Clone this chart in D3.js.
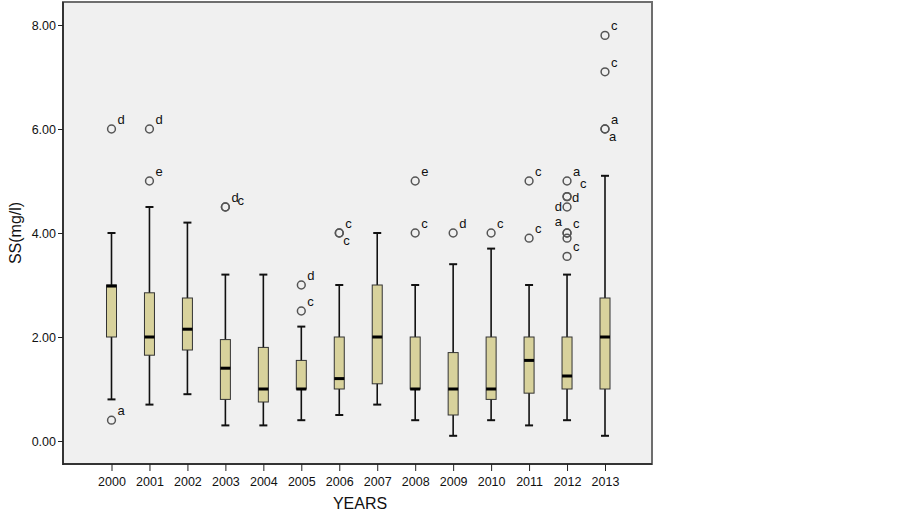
<!DOCTYPE html>
<html lang="en">
<head>
<meta charset="utf-8">
<title>SS by year</title>
<script src="https://cdnjs.cloudflare.com/ajax/libs/d3/7.8.5/d3.min.js"></script>
<style>
    body { margin: 0; background: #fff; }
    text { font-family: "Liberation Sans", Arial, sans-serif; fill: #111; }
</style>
</head>
<body>
<svg width="903" height="511"></svg>
<script>
// values
var years = ["2000","2001","2002","2003","2004","2005","2006","2007","2008","2009","2010","2011","2012","2013"];
var whiskerLow  = [0.8, 0.7, 0.9, 0.3, 0.3, 0.4, 0.5, 0.7, 0.4, 0.1, 0.4, 0.3, 0.4, 0.1];
var q1          = [2.0, 1.65, 1.75, 0.8, 0.75, 1.0, 1.0, 1.1, 1.0, 0.5, 0.8, 0.92, 1.0, 1.0];
var median      = [2.98, 2.0, 2.15, 1.4, 1.0, 1.0, 1.2, 2.0, 1.0, 1.0, 1.0, 1.55, 1.25, 2.0];
var q3          = [3.0, 2.85, 2.75, 1.95, 1.8, 1.55, 2.0, 3.0, 2.0, 1.7, 2.0, 2.0, 2.0, 2.75];
var whiskerHigh = [4.0, 4.5, 4.2, 3.2, 3.2, 2.2, 3.0, 4.0, 3.0, 3.4, 3.7, 3.0, 3.2, 5.1];
// outliers: year, value, label, label position (r = upper right, l = left, b = below right, rr = further right)
var outliers = [
    ["2000", 6.0, "d", "r"], ["2000", 0.4, "a", "r"],
    ["2001", 6.0, "d", "r"], ["2001", 5.0, "e", "r"],
    ["2003", 4.5, "d", "r"], ["2003", 4.5, "c", "r2"],
    ["2005", 3.0, "d", "r"], ["2005", 2.5, "c", "r"],
    ["2006", 4.0, "c", "r"], ["2006", 4.0, "c", "b"],
    ["2008", 5.0, "e", "r"], ["2008", 4.0, "c", "r"],
    ["2009", 4.0, "d", "r"],
    ["2010", 4.0, "c", "r"],
    ["2011", 5.0, "c", "r"], ["2011", 3.9, "c", "r"],
    ["2012", 5.0, "a", "r"], ["2012", 4.7, "c", "rr"], ["2012", 4.7, "d", "m"],
    ["2012", 4.5, "d", "l"], ["2012", 4.0, "a", "la"], ["2012", 4.0, "c", "r"],
    ["2012", 3.9, "", "r"], ["2012", 3.55, "c", "r"],
    ["2013", 7.8, "c", "r"], ["2013", 7.1, "c", "r"], ["2013", 6.0, "a", "r"], ["2013", 6.0, "a", "b"]
];
var yTicks = [0, 2, 4, 6, 8];

var svg = d3.select("svg");
var plotLeft = 63, plotRight = 652, plotTop = 2, plotBottom = 464;

var x = d3.scalePoint().domain(years).range([111.5, 605]);
var y = d3.scaleLinear().domain([0, 8]).range([441, 25]);

svg.append("rect")
    .attr("x", plotLeft).attr("y", plotTop)
    .attr("width", plotRight - plotLeft).attr("height", plotBottom - plotTop)
    .attr("fill", "#f0f0f0")
    .attr("stroke", "#6e6e6e")
    .attr("stroke-width", 2);

// axes
var yAxis = svg.append("g")
    .attr("transform", "translate(" + plotLeft + ",0)")
    .call(d3.axisLeft(y).tickValues(yTicks).tickSize(5).tickSizeOuter(0).tickFormat(d3.format(".2f")));
yAxis.select(".domain").remove();
yAxis.selectAll("line").attr("stroke", "#222");
yAxis.selectAll("text").attr("font-size", "12.5px").attr("dx", "1px").attr("fill", "#111");

var xAxis = svg.append("g")
    .attr("transform", "translate(0," + plotBottom + ")")
    .call(d3.axisBottom(x).tickSize(7).tickSizeOuter(0));
xAxis.select(".domain").remove();
xAxis.selectAll("line").attr("stroke", "#222");
xAxis.selectAll("text").attr("font-size", "12.5px").attr("dy", "0.95em").attr("fill", "#111");

svg.append("line")
    .attr("x1", plotLeft).attr("x2", plotLeft).attr("y1", plotTop).attr("y2", plotBottom + 1)
    .attr("stroke", "#222").attr("stroke-width", 1.5);
svg.append("line")
    .attr("x1", plotLeft).attr("x2", plotRight).attr("y1", plotBottom).attr("y2", plotBottom)
    .attr("stroke", "#222").attr("stroke-width", 1.5);

svg.append("text")
    .attr("transform", "translate(21," + y(4) + ") rotate(-90)")
    .attr("text-anchor", "middle")
    .attr("font-size", "16px")
    .text("SS(mg/l)");
svg.append("text")
    .attr("x", 360).attr("y", 509)
    .attr("text-anchor", "middle")
    .attr("font-size", "16px")
    .text("YEARS");

// boxes
var boxW = 10, capW = 4;
var g = svg.append("g");
years.forEach(function(yr, i) {
    var cx = x(yr);
    g.append("line")
        .attr("x1", cx).attr("x2", cx)
        .attr("y1", y(whiskerHigh[i])).attr("y2", y(whiskerLow[i]))
        .attr("stroke", "#111").attr("stroke-width", 1.6);
    [whiskerHigh[i], whiskerLow[i]].forEach(function(v) {
        g.append("line")
            .attr("x1", cx - capW).attr("x2", cx + capW)
            .attr("y1", y(v)).attr("y2", y(v))
            .attr("stroke", "#111").attr("stroke-width", 2);
    });
    g.append("rect")
        .attr("x", cx - boxW / 2).attr("y", y(q3[i]))
        .attr("width", boxW).attr("height", y(q1[i]) - y(q3[i]))
        .attr("fill", "#d8d29c")
        .attr("stroke", "#333").attr("stroke-width", 1);
    g.append("line")
        .attr("x1", cx - boxW / 2).attr("x2", cx + boxW / 2)
        .attr("y1", y(median[i])).attr("y2", y(median[i]))
        .attr("stroke", "#000").attr("stroke-width", 3);
});

// outliers
var labelOffsets = {
    r:  [6, -5, "start"],
    r2: [12, -2, "start"],
    rr: [13, -9, "start"],
    b:  [4, 12, "start"],
    m:  [5, 5, "start"],
    l:  [-5, 4, "end"],
    la: [-5, -7, "end"]
};
outliers.forEach(function(o) {
    var cx = x(o[0]), cy = y(o[1]);
    g.append("circle")
        .attr("cx", cx).attr("cy", cy).attr("r", 3.9)
        .attr("fill", "none")
        .attr("stroke", "#555").attr("stroke-width", 1.5);
    if (o[2]) {
        var off = labelOffsets[o[3]];
        g.append("text")
            .attr("x", cx + off[0]).attr("y", cy + off[1])
            .attr("text-anchor", off[2])
            .attr("font-size", "13px")
            .attr("fill", "#111")
            .text(o[2]);
    }
});
</script>
</body>
</html>
